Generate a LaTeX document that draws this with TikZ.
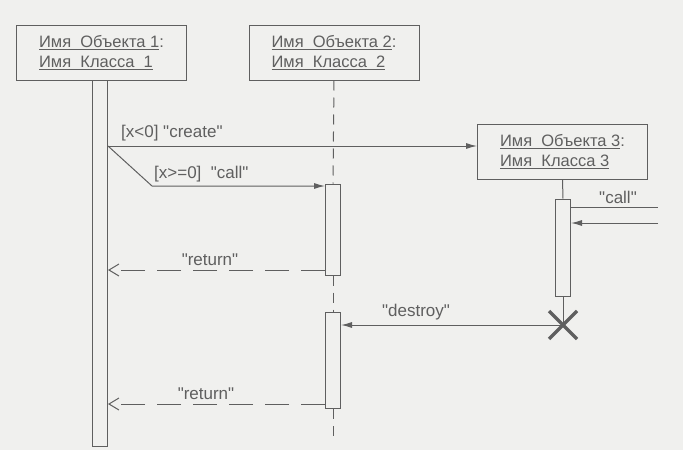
\documentclass[tikz,border=0pt]{standalone}
\usepackage{fontspec}
\setmainfont{Liberation Sans}[Ligatures=TeXOff]
\usetikzlibrary{arrows.meta}
\definecolor{paper}{RGB}{240,240,238}
\definecolor{ink}{RGB}{95,95,95}
\tikzset{
  objbox/.style={draw=ink, line width=1pt, minimum width=170pt, minimum height=55pt, align=left, text=ink, font=\fontsize{16.5}{19.5}\selectfont, inner sep=0pt},
  actbar/.style={draw=ink, line width=1pt, fill=paper, minimum width=15pt, inner sep=0pt},
  msg/.style={draw=ink, line width=1pt, -{Latex[length=11pt,width=6pt]}},
  ret/.style={draw=ink, line width=1pt, dash pattern=on 24pt off 12pt, -{Straight Barb[length=10pt,width=12pt]}},
  lbl/.style={text=ink, font=\fontsize{17}{20}\selectfont, inner sep=1pt},
  life/.style={draw=ink, line width=1pt},
  dlife/.style={draw=ink, line width=1pt, dash pattern=on 10pt off 7pt}
}
\begin{document}
\begin{tikzpicture}[x=1pt,y=-1pt]
\fill[paper] (0,0) rectangle (683,450);
\useasboundingbox (0,0) rectangle (683,450);

% objects
\node[objbox] (o1) at (101.5,52.5) {\underline{Имя\ \ Объекта 1}:\\\underline{Имя\ \ Класса\ \ 1}};
\node[objbox] (o2) at (334,52.5) {\underline{Имя\ \ Объекта 2}:\\\underline{Имя\ \ Класса\ \ 2}};
\node[objbox] (o3) at (562.5,151.5) {\underline{Имя\ \ Объекта 3}:\\\underline{Имя\ \ Класса 3}};

% activation bars
\node[actbar, minimum height=366pt] (a1) at (100,263) {};
\node[actbar, minimum height=91pt] (a2) at (333,229.5) {};
\node[actbar, minimum height=96pt] (a2b) at (333,360.5) {};
\node[actbar, minimum height=97pt] (a3) at (563,247.5) {};

% lifelines
\draw[dlife] (o2.south) -- (a2.north);
\draw[dlife] (a2.south) -- (a2b.north);
\coordinate (e2) at (333,442);
\draw[dlife] (a2b.south) -- (e2);
\draw[life] (o3.south) -- (a3.north);

% destruction mark
\node[inner sep=0pt, minimum size=1pt] (x3) at (563,325) {};
\draw[life] (a3.south) -- (x3.center);
\draw[ink, line width=3.2pt] (549,311) -- (577,339) (577,311) -- (549,339);

% create / call branch
\coordinate (c0) at (a1.east |- 0,146);
\coordinate (c1) at (152,186);
\draw[msg] (c0) -- (c0 -| o3.west);
\node[lbl, anchor=south west] (lcreate) at (120,142) {[x<0] "create"};
\draw[msg] (c0) -- (c1) -- (c1 -| a2.west);
\node[lbl, anchor=south west] (lcall) at (153,183) {[x>=0]\ \ "call"};

% returns
\draw[ret] (a2.west |- 0,270) -- (a1.east |- 0,270);
\node[lbl, anchor=south] (lret1) at (210,267) {"return"};
\draw[ret] (a2b.west |- 0,404) -- (a1.east |- 0,404);
\node[lbl, anchor=south] (lret2) at (206,401) {"return"};

% call to object 3
\coordinate (r1) at (658,207);
\coordinate (r2) at (658,223);
\draw[life] (a3.east |- r1) -- (r1);
\node[lbl, anchor=south] (lcall3) at (618,205) {"call"};
\draw[msg] (r2) -- (a3.east |- r2);

% destroy
\draw[msg] (x3.center) -- (a2b.east |- x3.center);
\node[lbl, anchor=south] (ldestroy) at (416,321) {"destroy"};
\end{tikzpicture}
\end{document}
